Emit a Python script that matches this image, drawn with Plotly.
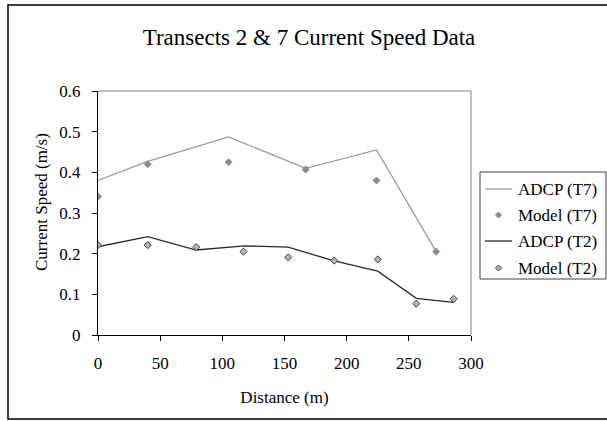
import plotly.graph_objects as go

# Data
adcp_t7_x = [0, 40, 105, 167, 224, 272]
adcp_t7_y = [0.380, 0.427, 0.487, 0.410, 0.455, 0.205]
model_t7_x = [0, 40, 105, 167, 224, 272]
model_t7_y = [0.340, 0.420, 0.425, 0.407, 0.380, 0.205]
adcp_t2_x = [0, 40, 79, 118, 153, 190, 225, 256, 286]
adcp_t2_y = [0.217, 0.242, 0.209, 0.219, 0.216, 0.182, 0.157, 0.090, 0.080]
model_t2_x = [0, 40, 79, 117, 153, 190, 225, 256, 286]
model_t2_y = [0.221, 0.221, 0.216, 0.205, 0.191, 0.183, 0.186, 0.077, 0.089]

series_names = ["ADCP (T7)", "Model (T7)", "ADCP (T2)", "Model (T2)"]
x_ticks = [0, 50, 100, 150, 200, 250, 300]
y_ticks = [0, 0.1, 0.2, 0.3, 0.4, 0.5, 0.6]
y_tick_labels = ["0", "0.1", "0.2", "0.3", "0.4", "0.5", "0.6"]

FONT = "Liberation Serif, Times New Roman, serif"
C_T7_LINE = "#9a9a9a"
C_T7_MARK = "#8a8a8a"
C_T2_LINE = "#2a2a2a"
C_T2_FILL = "#b4b4b4"
C_T2_EDGE = "#404040"

fig = go.Figure()
fig.add_trace(go.Scatter(x=adcp_t7_x, y=adcp_t7_y, mode="lines", name=series_names[0],
                         line=dict(color=C_T7_LINE, width=1.3)))
fig.add_trace(go.Scatter(x=model_t7_x, y=model_t7_y, mode="markers", name=series_names[1],
                         marker=dict(symbol="diamond", size=5.5, color=C_T7_MARK,
                                     line=dict(color=C_T7_MARK, width=0.8))))
fig.add_trace(go.Scatter(x=adcp_t2_x, y=adcp_t2_y, mode="lines", name=series_names[2],
                         line=dict(color=C_T2_LINE, width=1.3)))
fig.add_trace(go.Scatter(x=model_t2_x, y=model_t2_y, mode="markers", name=series_names[3],
                         marker=dict(symbol="diamond", size=5.5, color=C_T2_FILL,
                                     line=dict(color=C_T2_EDGE, width=1))))

L, R, T, B = 98, 607 - 471, 91, 421 - 335
PW, PH = 607 - L - R, 421 - T - B


def px(xp):
    return (xp - L) / PW


def py(yp):
    return (421 - B - yp) / PH


shapes = [
    # gray top/right frame of plot area
    dict(type="line", xref="paper", yref="paper", x0=0, y0=1, x1=1, y1=1,
         line=dict(color="#808080", width=1)),
    dict(type="line", xref="paper", yref="paper", x0=1, y0=0, x1=1, y1=1,
         line=dict(color="#808080", width=1)),
    # outer chart border
    dict(type="rect", xref="paper", yref="paper", x0=px(8), y0=py(419), x1=px(615), y1=py(5),
         line=dict(color="black", width=1.5), layer="below"),
    # legend box
    dict(type="rect", xref="paper", yref="paper", x0=px(480), y0=py(279), x1=px(606), y1=py(172),
         line=dict(color="#404040", width=1), fillcolor="white", layer="below"),
]

annotations = []
row_y = [189, 215, 241, 268]
for i, name in enumerate(series_names):
    yc = row_y[i]
    if i in (0, 2):
        col = C_T7_LINE if i == 0 else C_T2_LINE
        shapes.append(dict(type="line", xref="paper", yref="paper",
                           x0=px(485), x1=px(512), y0=py(yc), y1=py(yc),
                           line=dict(color=col, width=1.3)))
    else:
        fill = C_T7_MARK if i == 1 else C_T2_FILL
        edge = C_T7_MARK if i == 1 else C_T2_EDGE
        cx, h = 498.5, 3.0
        path = "M {} {} L {} {} L {} {} L {} {} Z".format(
            px(cx - h), py(yc), px(cx), py(yc - h), px(cx + h), py(yc), px(cx), py(yc + h))
        shapes.append(dict(type="path", xref="paper", yref="paper", path=path,
                           fillcolor=fill, line=dict(color=edge, width=1)))
    annotations.append(dict(text=name, xref="paper", yref="paper", x=px(516), y=py(yc),
                            xanchor="left", yanchor="middle", showarrow=False,
                            font=dict(size=17, family=FONT, color="black")))

# y-axis title
annotations.append(dict(text="Current Speed (m/s)", xref="paper", yref="paper",
                        x=px(41), y=py(202), xanchor="center", yanchor="middle",
                        textangle=-90, showarrow=False,
                        font=dict(size=17, family=FONT, color="black")))

fig.update_layout(
    width=607, height=421,
    margin=dict(l=L, r=R, t=T, b=B),
    paper_bgcolor="white", plot_bgcolor="white",
    font=dict(family=FONT, size=17, color="black"),
    title=dict(text="Transects 2 & 7 Current Speed Data", x=309 / 607, xanchor="center",
               y=1 - 37 / 421, yanchor="middle", font=dict(size=23, family=FONT)),
    showlegend=False,
    xaxis=dict(range=[0, 300], tickvals=x_ticks, ticks="outside", ticklen=5,
               tickcolor="black", showline=True, linecolor="black", linewidth=1,
               showgrid=False, zeroline=False, ticklabelstandoff=8,
               title=dict(text="Distance (m)", standoff=18, font=dict(size=17))),
    yaxis=dict(range=[0, 0.6], tickvals=y_ticks, ticktext=y_tick_labels, ticks="outside",
               ticklen=5, tickcolor="black", showline=True, linecolor="black", linewidth=1,
               showgrid=False, zeroline=False, ticklabelstandoff=8),
    shapes=shapes,
    annotations=annotations,
)

fig.write_html("out.html")
